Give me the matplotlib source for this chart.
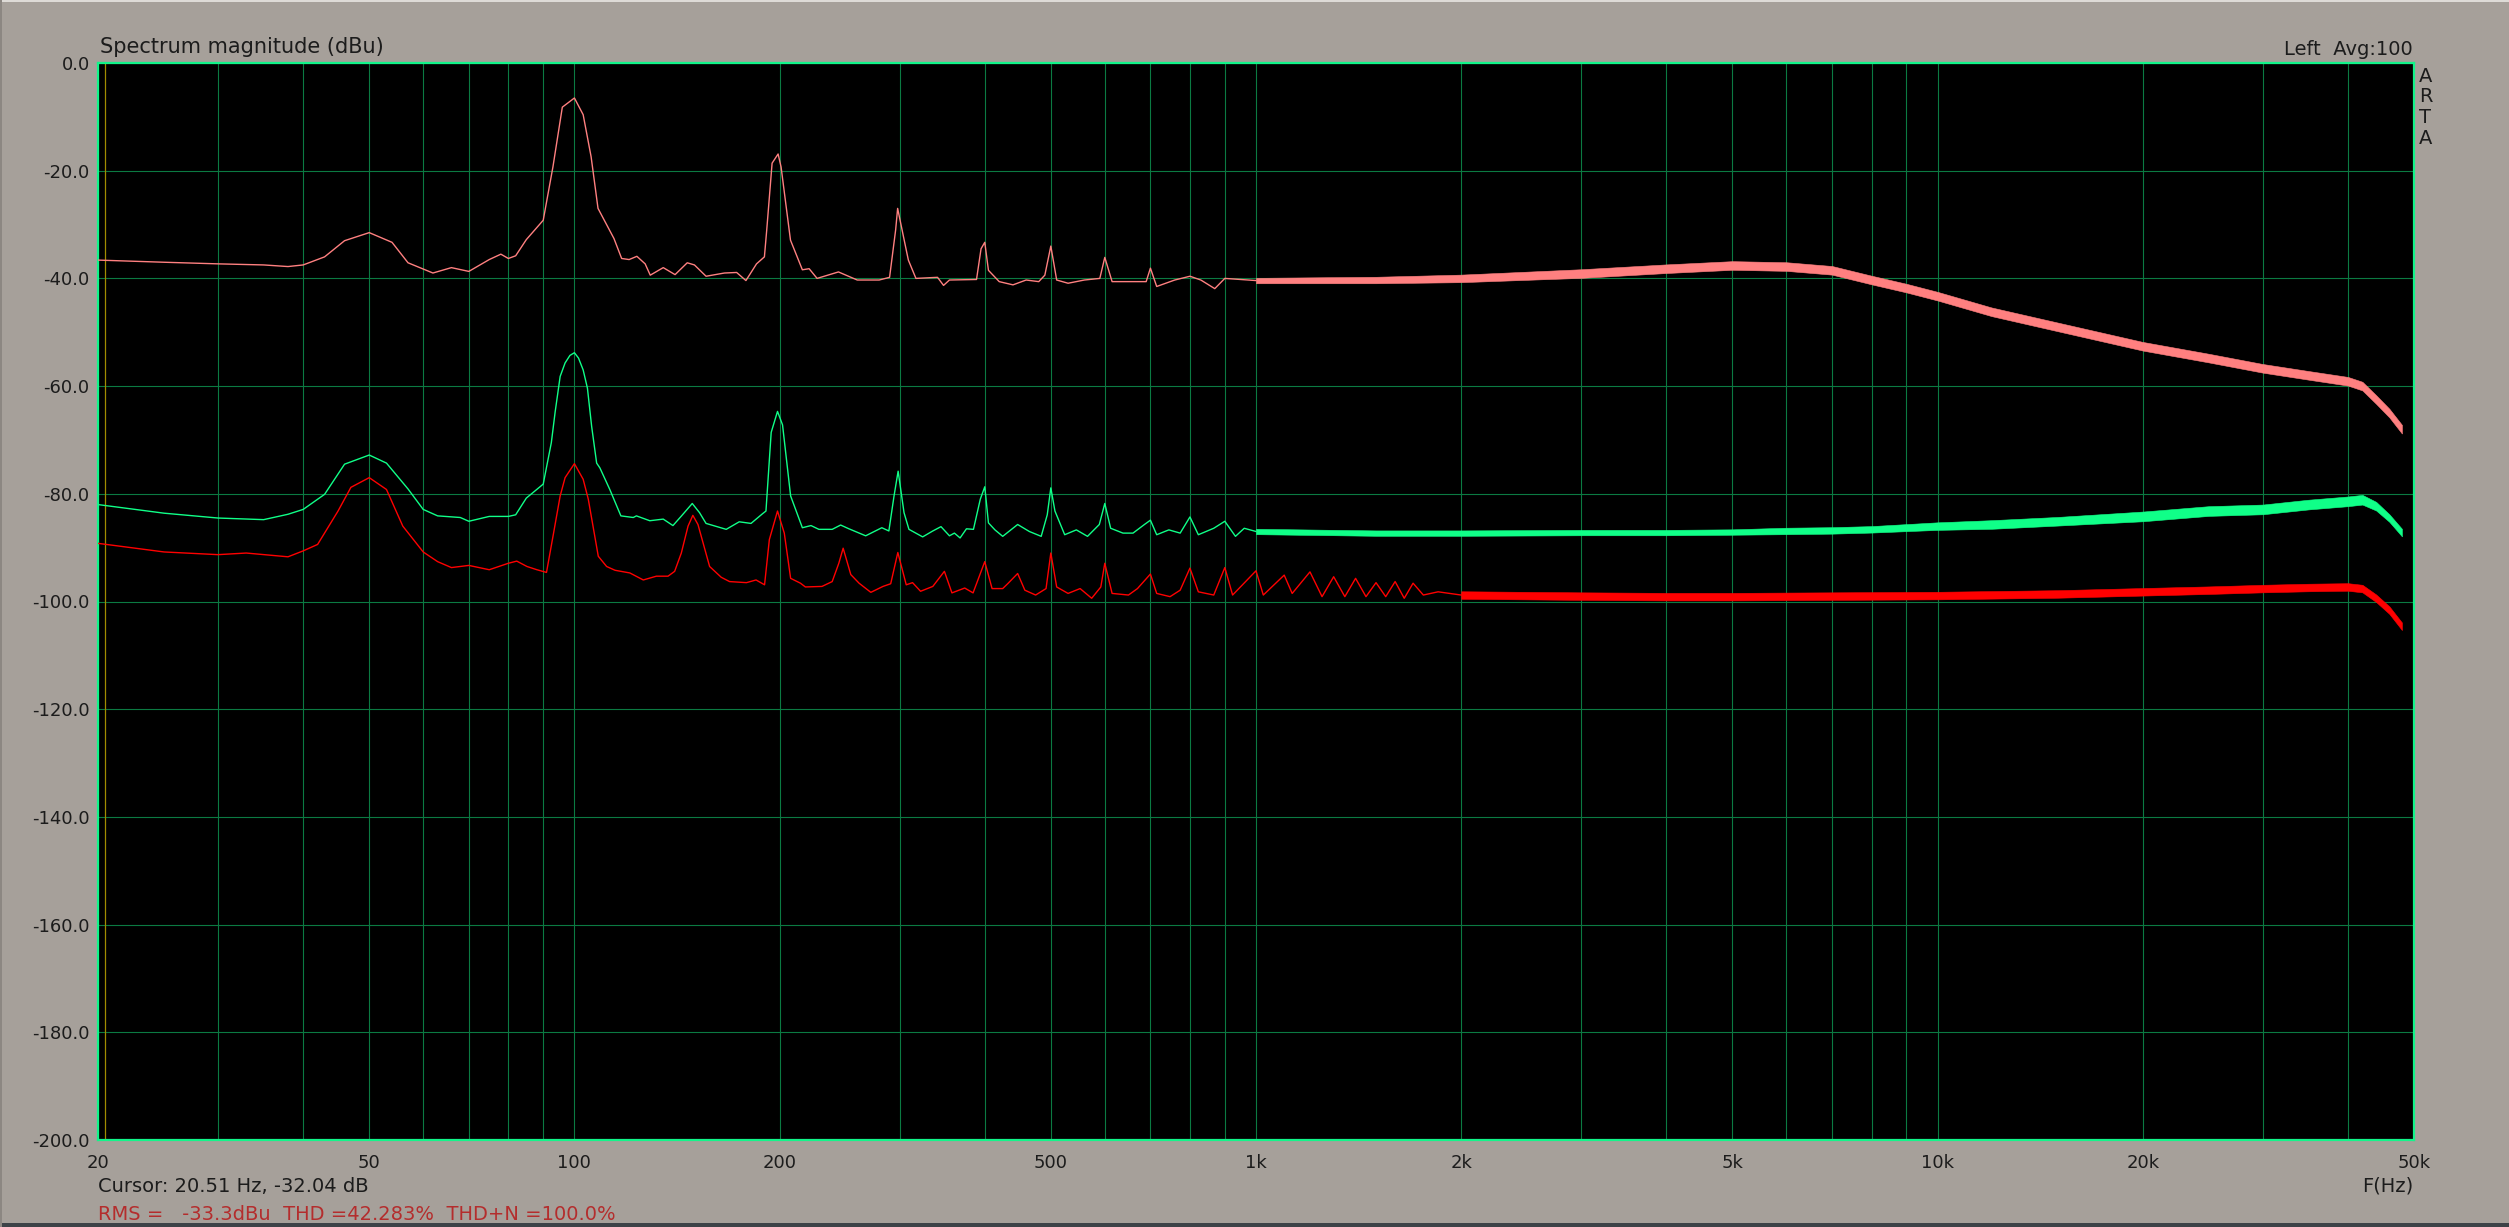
import matplotlib
matplotlib.use("Agg")
import matplotlib.pyplot as plt
import matplotlib.patches as patches

# ---- data (Hz, dBu) ----
pink_f = [20, 25, 30, 35, 38, 40, 43, 46, 50, 54, 57, 62, 66, 70, 75, 78, 80, 82, 85, 90,
          93, 96, 100, 103, 105.8, 108.3, 114.3, 117.3, 120.3, 123.5, 127, 129.2, 135, 140.5,
          146.4, 150, 156, 166, 173, 178.5, 185, 190, 191.5, 195, 199, 201, 207.5, 216, 221,
          227, 244, 260, 280, 290, 296, 298, 304, 309, 317, 341, 348, 355, 389, 395, 400, 405,
          420, 440, 460, 480, 490, 500, 510, 530, 560, 590, 600, 615, 650, 690, 700, 715, 760,
          800, 830, 870, 900, 1000]
pink_db = [-36.6, -37.0, -37.3, -37.5, -37.8, -37.5, -36.0, -33.0, -31.5, -33.3, -37.1, -39.0,
           -38.0, -38.7, -36.5, -35.5, -36.3, -35.8, -32.8, -29.2,
           -19.3, -8.2, -6.5, -9.6, -17.4, -27.0, -32.6, -36.3, -36.5, -35.9, -37.3, -39.4, -38.0,
           -39.3, -37.1, -37.5, -39.6, -39.0, -38.9, -40.4, -37.3, -36.0, -31.0, -18.6, -16.9,
           -19.3, -32.9, -38.4, -38.2, -40.0, -38.8, -40.3, -40.3, -39.8, -31.0, -27.0, -32.3,
           -36.6, -40.0, -39.8, -41.3, -40.3, -40.2, -34.5, -33.3, -38.5,
           -40.6, -41.2, -40.3, -40.6, -39.4, -34.0, -40.3, -40.9, -40.3, -40.0, -36.1, -40.6,
           -40.6, -40.6, -38.1, -41.5, -40.3, -39.6, -40.3, -41.9, -40.0, -40.4]

green_f = [20, 25, 30, 35, 38, 40, 43, 46, 50, 53, 57, 60, 63, 68, 70, 75, 80, 82, 85, 90,
           92.5, 93.7, 95.3, 96.9, 98.5, 100, 101.4, 103, 104.5, 106, 107.8, 109, 112.7, 117,
           122, 123.3, 129, 135, 139.5, 143.6, 148.9, 152.6, 156, 167, 174.5, 181.6, 188.8,
           191, 194.4, 198.6, 202, 207.6, 216, 222.4, 228.4, 238.9, 245.8, 252.8, 267.5,
           282.5, 289.3, 294.4, 298.5, 304.5, 309.6, 324.3, 335.6, 345, 355, 361, 368, 376,
           385, 394, 400, 405, 414, 425, 447, 465, 484, 494, 500, 507, 524, 545, 566, 589,
           600, 612, 638, 660, 686, 700, 715, 745, 774, 800, 823, 867, 900, 933, 961, 1000]
green_db = [-82.0, -83.6, -84.5, -84.8, -83.8, -82.9, -80.1, -74.5, -72.8, -74.3, -79.1, -82.9,
            -84.1, -84.4, -85.1, -84.2, -84.2, -83.9, -80.8, -78.2,
            -70.5, -64.8, -58.2, -55.7, -54.3, -53.8, -54.8, -57.0, -60.4, -67.5, -74.3, -75.2,
            -79.2, -84.1, -84.4, -84.1, -85.0, -84.7, -85.9, -84.1, -81.8, -83.5, -85.5, -86.6,
            -85.2, -85.5, -83.7, -83.2, -68.6, -64.7, -67.2, -80.4, -86.3, -85.9, -86.6, -86.6,
            -85.8, -86.5, -87.8, -86.3, -86.9, -80.4, -75.8, -83.5, -86.6, -88.0, -86.9, -86.1,
            -87.8, -87.3, -88.2, -86.5, -86.6, -81.0, -78.7, -85.4, -86.7, -87.9, -85.7, -87.0,
            -87.9, -83.9, -78.9, -83.2, -87.6, -86.7, -87.9, -85.7, -81.8, -86.4, -87.3, -87.3,
            -85.7, -84.9, -87.6, -86.7, -87.3, -84.3, -87.6, -86.4, -85.1, -87.9, -86.4, -87.0]

red_f = [20, 25, 30, 33, 38, 40, 42, 45, 47, 50, 53, 56, 60, 63, 66, 70, 75, 80, 82.3, 85.2,
         88.1, 91, 93.2, 95.3, 96.9, 100, 103, 104.8, 108.4, 111.5, 114.7, 120.6, 126.2,
         131.9, 137.2, 140.3, 143.5, 146.8, 149.2, 151.8, 157.9, 164.2, 168.9, 178.8, 184.7,
         190.1, 193.2, 198.6, 203.2, 207.6, 214.6, 218.2, 230.8, 238.9, 244.3, 247.9, 254.4,
         261.6, 272.2, 283.6, 291.1, 298.2, 306.8, 313.4, 322, 335.6, 349, 358, 373.8, 384.5,
         400, 410, 425, 433, 447, 458, 475, 492, 500, 510, 530, 552, 574, 592, 600, 615, 650,
         670, 700, 715, 748, 774, 800, 823, 867, 900, 924, 1000, 1025, 1100, 1130, 1200,
         1250, 1300, 1350, 1400, 1450, 1500, 1550, 1600, 1650, 1700, 1760, 1850, 2000]
red_db = [-89.2, -90.8, -91.3, -91.0, -91.7, -90.6, -89.4, -83.2, -78.8, -77.0, -79.2, -86.0,
          -90.8, -92.6, -93.7, -93.3, -94.1, -92.9, -92.5, -93.5,
          -94.1, -94.6, -87.3, -80.4, -77.0, -74.4, -77.3, -81.0, -91.6, -93.5, -94.2, -94.7,
          -96.0, -95.3, -95.3, -94.4, -91.0, -86.0, -84.0, -85.7, -93.5, -95.5, -96.3, -96.5,
          -96.0, -96.9, -88.5, -83.2, -87.3, -95.7, -96.6, -97.3, -97.2, -96.3, -92.9, -90.1,
          -95.0, -96.6, -98.3, -97.2, -96.7, -90.9, -96.9, -96.5, -98.1, -97.2, -94.4, -98.4,
          -97.5, -98.4, -92.6, -97.6, -97.6, -96.6, -94.8, -97.9, -98.8, -97.6, -91.0, -97.3,
          -98.5, -97.6, -99.4, -97.3, -92.9, -98.5, -98.8, -97.6, -94.9, -98.5, -99.1, -97.9,
          -93.8, -98.2, -98.8, -93.7, -98.8, -94.3, -98.8, -95.1, -98.5, -94.5, -99.1, -95.4,
          -99.1, -95.7, -99.1, -96.5, -99.1, -96.3, -99.4, -96.6, -98.8, -98.2, -98.8]

# noisy upper part of each trace: lower / upper edge of the noise band
pink_band_f = [1000, 1500, 2000, 3000, 4000, 5000, 6000, 7000, 8000, 9000, 10000, 12000,
               15000, 20000, 25000, 30000, 35000, 40000, 42000, 44000, 46000, 48000]
pink_band_lo = [-40.9, -40.9, -40.7, -39.9, -39.0, -38.4, -38.6, -39.3, -41.1, -42.6, -44.1,
                -47.0, -49.8, -53.4, -55.6, -57.5, -58.8, -59.9, -60.8, -63.3, -65.8, -68.8]
pink_band_hi = [-39.9, -39.7, -39.3, -38.3, -37.4, -36.8, -37.0, -37.7, -39.5, -41.0, -42.5,
                -45.4, -48.2, -51.8, -54.0, -55.9, -57.2, -58.3, -59.2, -61.7, -64.2, -67.2]

green_band_f = [1000, 1500, 2000, 3000, 4000, 5000, 6000, 7000, 8000, 10000, 12000, 15000,
                20000, 25000, 30000, 35000, 40000, 42000, 44000, 46000, 48000]
green_band_lo = [-87.5, -87.8, -87.8, -87.7, -87.7, -87.6, -87.5, -87.4, -87.2, -86.7, -86.5,
                 -85.9, -85.1, -84.1, -83.8, -82.9, -82.3, -82.0, -83.1, -85.2, -87.9]
green_band_hi = [-86.5, -86.8, -86.8, -86.7, -86.7, -86.6, -86.3, -86.2, -86.0, -85.3, -84.9,
                 -84.3, -83.3, -82.3, -82.0, -81.1, -80.5, -80.2, -81.5, -83.8, -86.5]

red_band_f = [2000, 3000, 4000, 5000, 7000, 10000, 15000, 20000, 25000, 30000, 35000, 40000,
              42000, 44000, 46000, 48000]
red_band_lo = [-99.5, -99.7, -99.8, -99.8, -99.7, -99.6, -99.3, -98.9, -98.6, -98.3, -98.1,
               -98.0, -98.3, -100.1, -102.3, -105.3]
red_band_hi = [-98.1, -98.3, -98.4, -98.4, -98.3, -98.2, -97.9, -97.5, -97.2, -96.9, -96.7,
               -96.6, -96.9, -98.7, -100.9, -103.9]

grid_f = [20, 30, 40, 50, 60, 70, 80, 90, 100, 200, 300, 400, 500, 600, 700, 800, 900,
          1000, 2000, 3000, 4000, 5000, 6000, 7000, 8000, 9000, 10000, 20000, 30000, 40000, 50000]
x_labels = {20: "20", 50: "50", 100: "100", 200: "200", 500: "500", 1000: "1k", 2000: "2k",
            5000: "5k", 10000: "10k", 20000: "20k", 50000: "50k"}
y_ticks = [0, -20, -40, -60, -80, -100, -120, -140, -160, -180, -200]
cursor_hz = 20.51

# ---- look ----
W, H, DPI = 2509, 1227, 100
bg = "#a6a09a"
text_c = "#1c1c1c"
grid_c = "#0b7a42"
frame_c = "#12f58a"
pink_c = "#ff8080"
green_c = "#10ff88"
red_c = "#ff0000"

fig = plt.figure(figsize=(W / DPI, H / DPI), dpi=DPI)
fig.patch.set_facecolor(bg)


def px(x, y):
    return x / W, 1 - y / H


# screenshot border strips
fig.patches.append(patches.Rectangle((0, 0), 1, 4 / H, transform=fig.transFigure,
                                     facecolor="#3d4247", edgecolor="none"))
fig.patches.append(patches.Rectangle((0, 1 - 2 / H), 1, 2 / H, transform=fig.transFigure,
                                     facecolor="#dedbd7", edgecolor="none"))
fig.patches.append(patches.Rectangle((0, 0), 2 / W, 1, transform=fig.transFigure,
                                     facecolor="#8c8782", edgecolor="none"))

ax = fig.add_axes([98 / W, 1 - 1140 / H, (2414 - 98) / W, (1140 - 63) / H])
ax.set_facecolor("black")
ax.set_xscale("log")
ax.set_xlim(20, 50000)
ax.set_ylim(-200, 0)

ax.set_xticks(grid_f)
ax.set_xticklabels([x_labels.get(f, "") for f in grid_f])
ax.xaxis.set_minor_locator(matplotlib.ticker.NullLocator())
ax.set_yticks(y_ticks)
ax.set_yticklabels([f"{v:.1f}" for v in y_ticks])
ax.tick_params(axis="both", length=0, labelsize=13, labelcolor=text_c)
ax.tick_params(axis="x", pad=10)
ax.tick_params(axis="y", pad=6)
ax.grid(True, color=grid_c, lw=0.8)
ax.set_axisbelow(True)
for s in ax.spines.values():
    s.set_color(frame_c)
    s.set_linewidth(1.6)

ax.axvline(cursor_hz, color="#a08c00", lw=0.9, zorder=1.5)

ax.plot(pink_f, pink_db, color=pink_c, lw=1.0, zorder=3)
ax.fill_between(pink_band_f, pink_band_lo, pink_band_hi, color=pink_c, lw=0.4, zorder=3)
ax.plot(green_f, green_db, color=green_c, lw=1.0, zorder=3)
ax.fill_between(green_band_f, green_band_lo, green_band_hi, color=green_c, lw=0.4, zorder=3)
ax.plot(red_f, red_db, color=red_c, lw=1.0, zorder=3)
ax.fill_between(red_band_f, red_band_lo, red_band_hi, color=red_c, lw=0.4, zorder=3)

# ---- texts ----
fig.text(*px(100, 53), "Spectrum magnitude (dBu)", fontsize=15, color=text_c,
         ha="left", va="baseline")
fig.text(*px(2413, 55), "Left  Avg:100", fontsize=14, color=text_c, ha="right", va="baseline")
for i, ch in enumerate("ARTA"):
    fig.text(*px(2419, 76 + i * 20.7), ch, fontsize=14, color=text_c, ha="left", va="center")
fig.text(*px(98, 1187), "Cursor: 20.51 Hz, -32.04 dB", fontsize=14, color=text_c,
         ha="left", va="center")
fig.text(*px(2413, 1186), "F(Hz)", fontsize=14, color=text_c, ha="right", va="center")
fig.text(*px(98, 1214), "RMS =   -33.3dBu  THD =42.283%  THD+N =100.0%", fontsize=14,
         color="#b42d2d", ha="left", va="center")

fig.savefig("out.png", dpi=DPI, facecolor=bg)
